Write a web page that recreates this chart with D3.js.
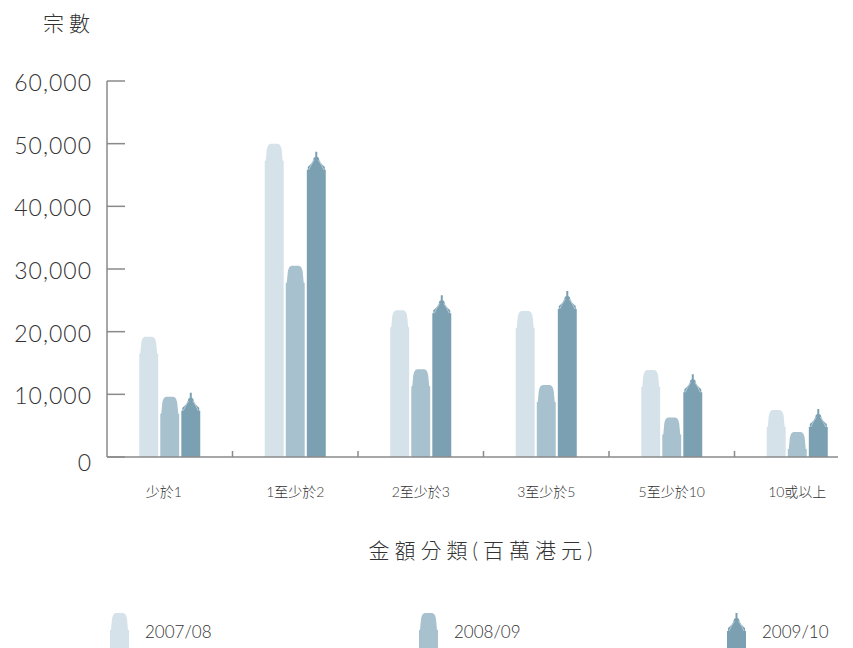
<!DOCTYPE html>
<html>
<head>
<meta charset="utf-8">
<script src="https://cdn.jsdelivr.net/npm/d3@7"></script>
<style>
  body { margin: 0; background: #fff; }
  svg { display: block; }
  text { fill: #333; }
  .num { font-family: Lato, "Noto Sans", sans-serif; font-weight: 300; }
  .cjk { font-family: Lato, "Noto Sans CJK TC", sans-serif; font-weight: 300; }
</style>
</head>
<body>
<svg width="853" height="648"></svg>
<script>
// categories (amount, HK$ million) and series values (number of cases)
const categories = ["少於1", "1至少於2", "2至少於3", "3至少於5", "5至少於10", "10或以上"];
const seriesNames = ["2007/08", "2008/09", "2009/10"];
const values0708 = [19200, 50000, 23400, 23300, 13900, 7500];
const values0809 = [9600, 30500, 14000, 11500, 6300, 4000];
const values0910 = [10250, 48700, 25800, 26500, 13200, 7650];
const yTicks = [0, 10000, 20000, 30000, 40000, 50000, 60000];

const colors = ["#d5e2ea", "#a8c1ce", "#7aa0b2"];

const svg = d3.select("svg");
const plotLeft = 107, plotBase = 457, plotTop = 81;

const x = d3.scaleBand().domain(categories).range([plotLeft, plotLeft + 125.5 * 6]);
const x1 = d3.scaleBand().domain(seriesNames).range([0, 61]).paddingInner(0.1);
const y = d3.scaleLinear().domain([0, 60000]).range([plotBase, plotTop]);
const color = d3.scaleOrdinal().domain(seriesNames).range(colors);

const data = [];
categories.forEach((c, i) => {
    [values0708, values0809, values0910].forEach((arr, j) => {
        data.push({cat: c, series: seriesNames[j], value: arr[i]});
    });
});

// building-shaped bars: rounded tower or spire tower
function roundTower(x0, w, t, b) {
    return `M${x0},${b} L${x0},${t + 17} L${x0 + 1},${t + 17} L${x0 + 2},${t + 6}
        Q${x0 + 3},${t} ${x0 + 6},${t} L${x0 + w - 6},${t}
        Q${x0 + w - 3},${t} ${x0 + w - 2},${t + 6} L${x0 + w - 1},${t + 17}
        L${x0 + w},${t + 17} L${x0 + w},${b} Z`;
}
function spireTower(x0, w, t, b) {
    const c = x0 + w / 2;
    return `M${x0},${b} L${x0},${t + 18} L${x0 + 1},${t + 18} L${x0 + 1},${t + 15}
        Q${c - 3},${t + 11} ${c - 2.5},${t + 6} L${c - 1},${t + 5} L${c - 1},${t}
        L${c + 1},${t} L${c + 1},${t + 5} L${c + 2.5},${t + 6}
        Q${c + 3},${t + 11} ${x0 + w - 1},${t + 15} L${x0 + w - 1},${t + 18}
        L${x0 + w},${t + 18} L${x0 + w},${b} Z`;
}
function spireLines(x0, w, t) {
    const c = x0 + w / 2;
    return `M${c - 2},${t + 8} Q${c - 6},${t + 14} ${x0 + 2},${t + 18}
        M${c + 2},${t + 8} Q${c + 6},${t + 14} ${x0 + w - 2},${t + 18}`;
}
function tower(series, x0, w, t, b) {
    return series === "2009/10" ? spireTower(x0, w, t, b) : roundTower(x0, w, t, b);
}

// bars
const bars = svg.append("g");
bars.selectAll("path.bar")
    .data(data)
    .enter()
    .append("path")
    .attr("class", "bar")
    .attr("fill", d => color(d.series))
    .attr("d", d => {
        const x0 = x(d.cat) + x.bandwidth() / 2 - 30.5 + x1(d.series);
        return tower(d.series, x0, x1.bandwidth(), y(d.value), plotBase);
    });
bars.selectAll("path.deco")
    .data(data.filter(d => d.series === "2009/10"))
    .enter()
    .append("path")
    .attr("class", "deco")
    .attr("fill", "none")
    .attr("stroke", "#c4d6df")
    .attr("stroke-width", 0.8)
    .attr("d", d => {
        const x0 = x(d.cat) + x.bandwidth() / 2 - 30.5 + x1(d.series);
        return spireLines(x0, x1.bandwidth(), y(d.value));
    });

// y axis
const axisColor = "#8a8a8a";
svg.append("line")
    .attr("x1", plotLeft).attr("x2", plotLeft)
    .attr("y1", y(60000)).attr("y2", plotBase)
    .attr("stroke", axisColor).attr("stroke-width", 1.5);
svg.selectAll("line.ytick")
    .data(yTicks)
    .enter()
    .append("line")
    .attr("x1", plotLeft).attr("x2", plotLeft + 18)
    .attr("y1", d => y(d)).attr("y2", d => y(d))
    .attr("stroke", axisColor).attr("stroke-width", 1.5);
svg.selectAll("text.ylab")
    .data(yTicks)
    .enter()
    .append("text")
    .attr("class", "num")
    .attr("x", 92)
    .attr("y", d => y(d) + (d === 0 ? 6 : 2))
    .attr("dy", "0.35em")
    .attr("text-anchor", "end")
    .style("font-size", "23px")
    .style("letter-spacing", "1px")
    .text(d => d3.format(",")(d));

// x axis
svg.append("line")
    .attr("x1", plotLeft).attr("x2", 838)
    .attr("y1", plotBase).attr("y2", plotBase)
    .attr("stroke", axisColor).attr("stroke-width", 1.5);
svg.selectAll("line.xtick")
    .data(categories.slice(1))
    .enter()
    .append("line")
    .attr("x1", d => x(d)).attr("x2", d => x(d))
    .attr("y1", plotBase - 6).attr("y2", plotBase)
    .attr("stroke", axisColor).attr("stroke-width", 1.5);
svg.selectAll("text.xlab")
    .data(categories)
    .enter()
    .append("text")
    .attr("class", "cjk")
    .attr("x", d => x(d) + x.bandwidth() / 2 - (d === categories[0] ? 6 : 0))
    .attr("y", 497)
    .attr("text-anchor", "middle")
    .style("font-size", "14px")
    .text(d => d);

// axis titles
svg.append("text")
    .attr("class", "cjk")
    .attr("x", 43).attr("y", 31)
    .style("font-size", "21px")
    .style("letter-spacing", "5px")
    .text("宗數");
svg.append("text")
    .attr("class", "cjk")
    .attr("x", 483).attr("y", 558)
    .attr("text-anchor", "middle")
    .style("font-size", "21px")
    .style("letter-spacing", "5px")
    .text("金額分類(百萬港元)");

// legend
const legendX = [110, 419, 727];
const legend = svg.selectAll("g.legend")
    .data(seriesNames)
    .enter()
    .append("g")
    .attr("class", "legend")
    .attr("transform", (d, i) => `translate(${legendX[i]},0)`);
legend.append("path")
    .attr("fill", d => color(d))
    .attr("d", d => tower(d, 0, 19, 613, 660));
legend.filter(d => d === "2009/10")
    .append("path")
    .attr("fill", "none")
    .attr("stroke", "#c4d6df")
    .attr("stroke-width", 0.8)
    .attr("d", spireLines(0, 19, 613));
legend.append("text")
    .attr("class", "num")
    .attr("x", 35).attr("y", 632)
    .attr("dy", "0.35em")
    .style("font-size", "17px")
    .text(d => d);
</script>
</body>
</html>
